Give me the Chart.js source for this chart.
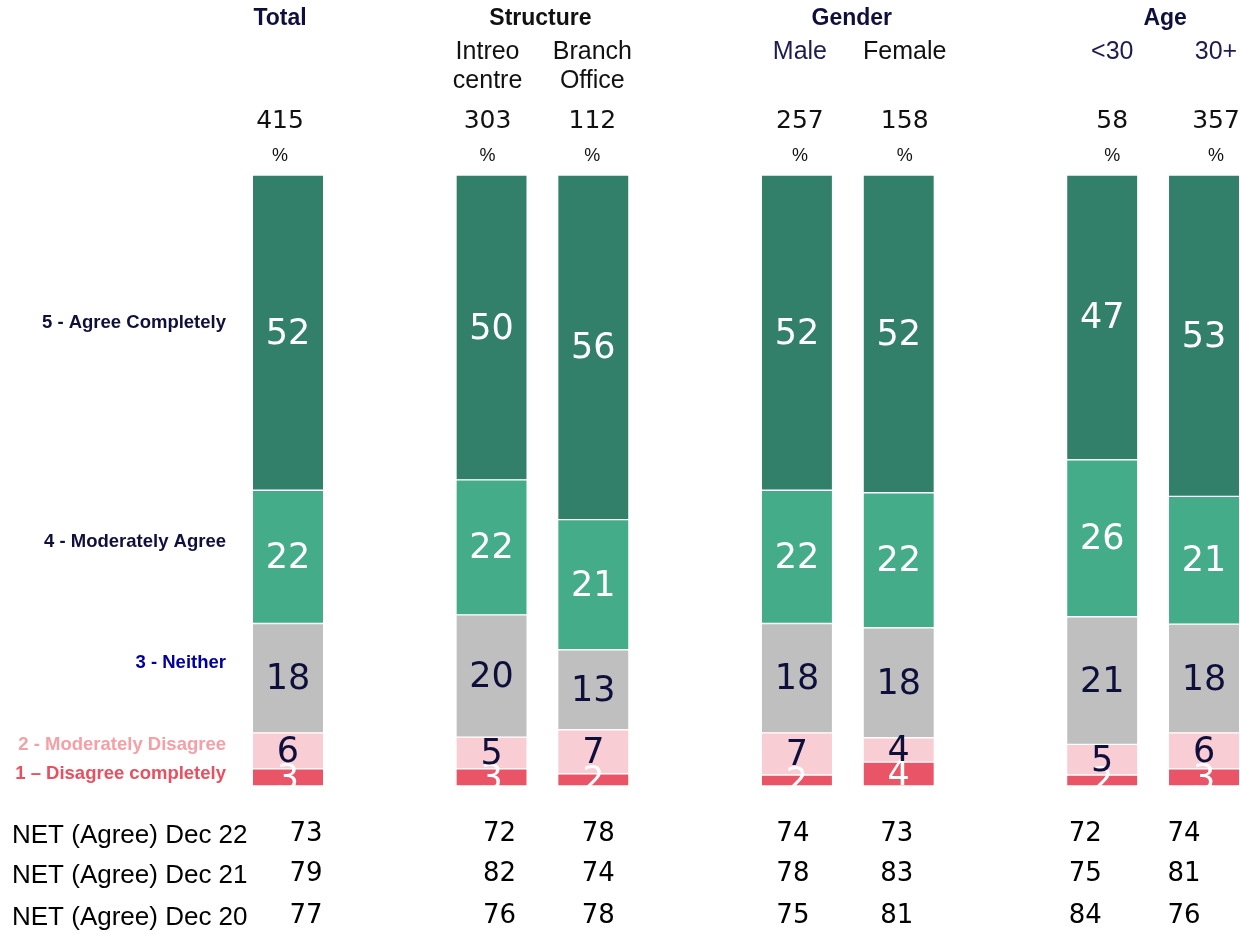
<!DOCTYPE html>
<html>
<head>
<meta charset="utf-8">
<script src="https://cdn.jsdelivr.net/npm/chart.js@4"></script>
<style>
  html, body { margin: 0; padding: 0; background: #fff; overflow: hidden; }
  #wrap { width: 1240px; height: 935px; position: relative; }
</style>
</head>
<body>
<div id="wrap"><canvas id="chart" width="1240" height="935"></canvas></div>
<script>
// ---- data ----
const columns = ['Total', 'Intreo centre', 'Branch Office', 'Male', 'Female', '<30', '30+'];
const groups = ['Total', 'Structure', 'Gender', 'Age'];
const baseSizes = [415, 303, 112, 257, 158, 58, 357];

// share of each answer, % (bottom of stack first)
const disagreeCompletely = [2.8, 2.8, 2.0, 1.8, 3.9, 1.8, 2.8];
const moderatelyDisagree = [5.9, 5.2, 7.2, 6.9, 4.0, 5.0, 5.9];
const neither = [17.9, 20.0, 13.1, 17.9, 18.0, 20.9, 17.8];
const moderatelyAgree = [21.8, 22.1, 21.3, 21.8, 22.1, 25.7, 20.9];
const agreeCompletely = [51.6, 49.9, 56.4, 51.6, 52.0, 46.6, 52.6];

const answerLabels = ['1 \u2013 Disagree completely', '2 - Moderately Disagree', '3 - Neither', '4 - Moderately Agree', '5 - Agree Completely'];

const netLabels = ['NET (Agree) Dec 22', 'NET (Agree) Dec 21', 'NET (Agree) Dec 20'];
const netDec22 = [73, 72, 78, 74, 73, 72, 74];
const netDec21 = [79, 82, 74, 78, 83, 75, 81];
const netDec20 = [77, 76, 78, 75, 81, 84, 76];

// ---- layout / style ----
const NAVY = '#0f0f3c';
const SANS = '"Liberation Sans", Arial, sans-serif';
const NUM = '"DejaVu Sans", sans-serif';
const colSlot = [0, 2, 3, 5, 6, 8, 9];          // gaps between groups
const groupCols = [[0], [1, 2], [3, 4], [5, 6]];
const headShift = [-8, -2, 4, 12];
const colShift = [-8, -4, -1, 3, 6, 10, 12];
const netShift = [18, 8, 5, -4, -2, -17, -20];
const netRowY = [836, 876, 918];
const subColors = [NAVY, '#111', '#111', '#1c1c50', '#111', '#1c1c50', '#1c1c50'];
const headColors = [NAVY, '#111', NAVY, NAVY];
const answerColors = ['#e95466', '#f8cdd3', '#bfbfbf', '#45ac8a', '#33806a'];
const answerTextColors = ['#e8505f', '#f4a0a6', '#0000a0', NAVY, NAVY];
const valueTextColors = ['#fff', NAVY, NAVY, '#fff', '#fff'];
const labelNudge = [-4, -6, -15, -15, -10];

const series = [disagreeCompletely, moderatelyDisagree, neither, moderatelyAgree, agreeCompletely];

const datasets = series.map((vals, i) => ({
    label: answerLabels[i],
    data: vals.map((v, c) => ({ x: colSlot[c], y: v })),
    backgroundColor: answerColors[i],
    borderColor: '#ffffff',
    borderWidth: { top: 1, bottom: 1, left: 0, right: 0 },
    borderSkipped: false,
    barThickness: 70
}));

const textPlugin = {
    id: 'textPlugin',
    afterDatasetsDraw(chart) {
        const ctx = chart.ctx;
        const area = chart.chartArea;
        ctx.save();
        ctx.beginPath();
        ctx.rect(area.left, area.top, area.right - area.left, area.bottom - area.top);
        ctx.clip();
        ctx.font = '35px ' + NUM;
        ctx.textAlign = 'center';
        ctx.textBaseline = 'middle';
        chart.data.datasets.forEach((ds, i) => {
            const meta = chart.getDatasetMeta(i);
            meta.data.forEach((bar, c) => {
                const v = series[i][c];
                ctx.fillStyle = valueTextColors[i];
                ctx.fillText(String(Math.round(v)), bar.x, (bar.y + bar.base) / 2 + 2);
            });
        });
        ctx.restore();
    },
    afterDraw(chart) {
        const ctx = chart.ctx;
        const xs = chart.scales.x;
        const colX = columns.map((_, c) => xs.getPixelForValue(colSlot[c]));
        ctx.save();
        ctx.textAlign = 'center';
        ctx.textBaseline = 'middle';

        // group headers
        ctx.font = 'bold 23px ' + SANS;
        groups.forEach((g, gi) => {
            const cols = groupCols[gi];
            const cx = (colX[cols[0]] + colX[cols[cols.length - 1]]) / 2 + headShift[gi];
            ctx.fillStyle = headColors[gi];
            ctx.fillText(g, cx, 19);
        });

        // column names, base sizes, %
        columns.forEach((name, c) => {
            const cx = colX[c] + colShift[c];
            if (c > 0) {
                ctx.font = '25px ' + SANS;
                ctx.fillStyle = subColors[c];
                const parts = name.split(' ');
                parts.forEach((p, k) => ctx.fillText(p, cx, 52 + k * 29));
            }
            ctx.font = '25px ' + NUM;
            ctx.fillStyle = '#111';
            ctx.fillText(String(baseSizes[c]), cx, 121);
            ctx.font = '18px ' + SANS;
            ctx.fillText('%', cx, 156);
        });

        // answer labels next to the Total bar
        ctx.textAlign = 'right';
        ctx.font = 'bold 18.5px ' + SANS;
        const totalMeta = chart.data.datasets.map((_, i) => chart.getDatasetMeta(i).data[0]);
        answerLabels.forEach((lab, i) => {
            const bar = totalMeta[i];
            ctx.fillStyle = answerTextColors[i];
            ctx.fillText(lab, 226, (bar.y + bar.base) / 2 + labelNudge[i]);
        });

        // NET rows
        const netRows = [netDec22, netDec21, netDec20];
        netRows.forEach((row, r) => {
            const y = netRowY[r];
            ctx.fillStyle = '#000';
            ctx.font = '26px ' + SANS;
            ctx.textAlign = 'left';
            ctx.fillText(netLabels[r], 12, y);
            ctx.font = '26px ' + NUM;
            ctx.textAlign = 'center';
            row.forEach((v, c) => ctx.fillText(String(v), colX[c] + netShift[c], y - 2));
        });
        ctx.restore();
    }
};

new Chart(document.getElementById('chart'), {
    type: 'bar',
    data: { datasets },
    options: {
        responsive: false,
        animation: false,
        layout: { padding: { top: 175, bottom: 149, left: 230, right: 0 } },
        scales: {
            x: { type: 'linear', stacked: true, display: false, offset: false, min: -0.5699, max: 9.3535, grid: { offset: false } },
            y: { stacked: true, display: false, min: 0, max: 100 }
        },
        plugins: {
            legend: { display: false },
            tooltip: { enabled: false }
        }
    },
    plugins: [textPlugin]
});
</script>
</body>
</html>
